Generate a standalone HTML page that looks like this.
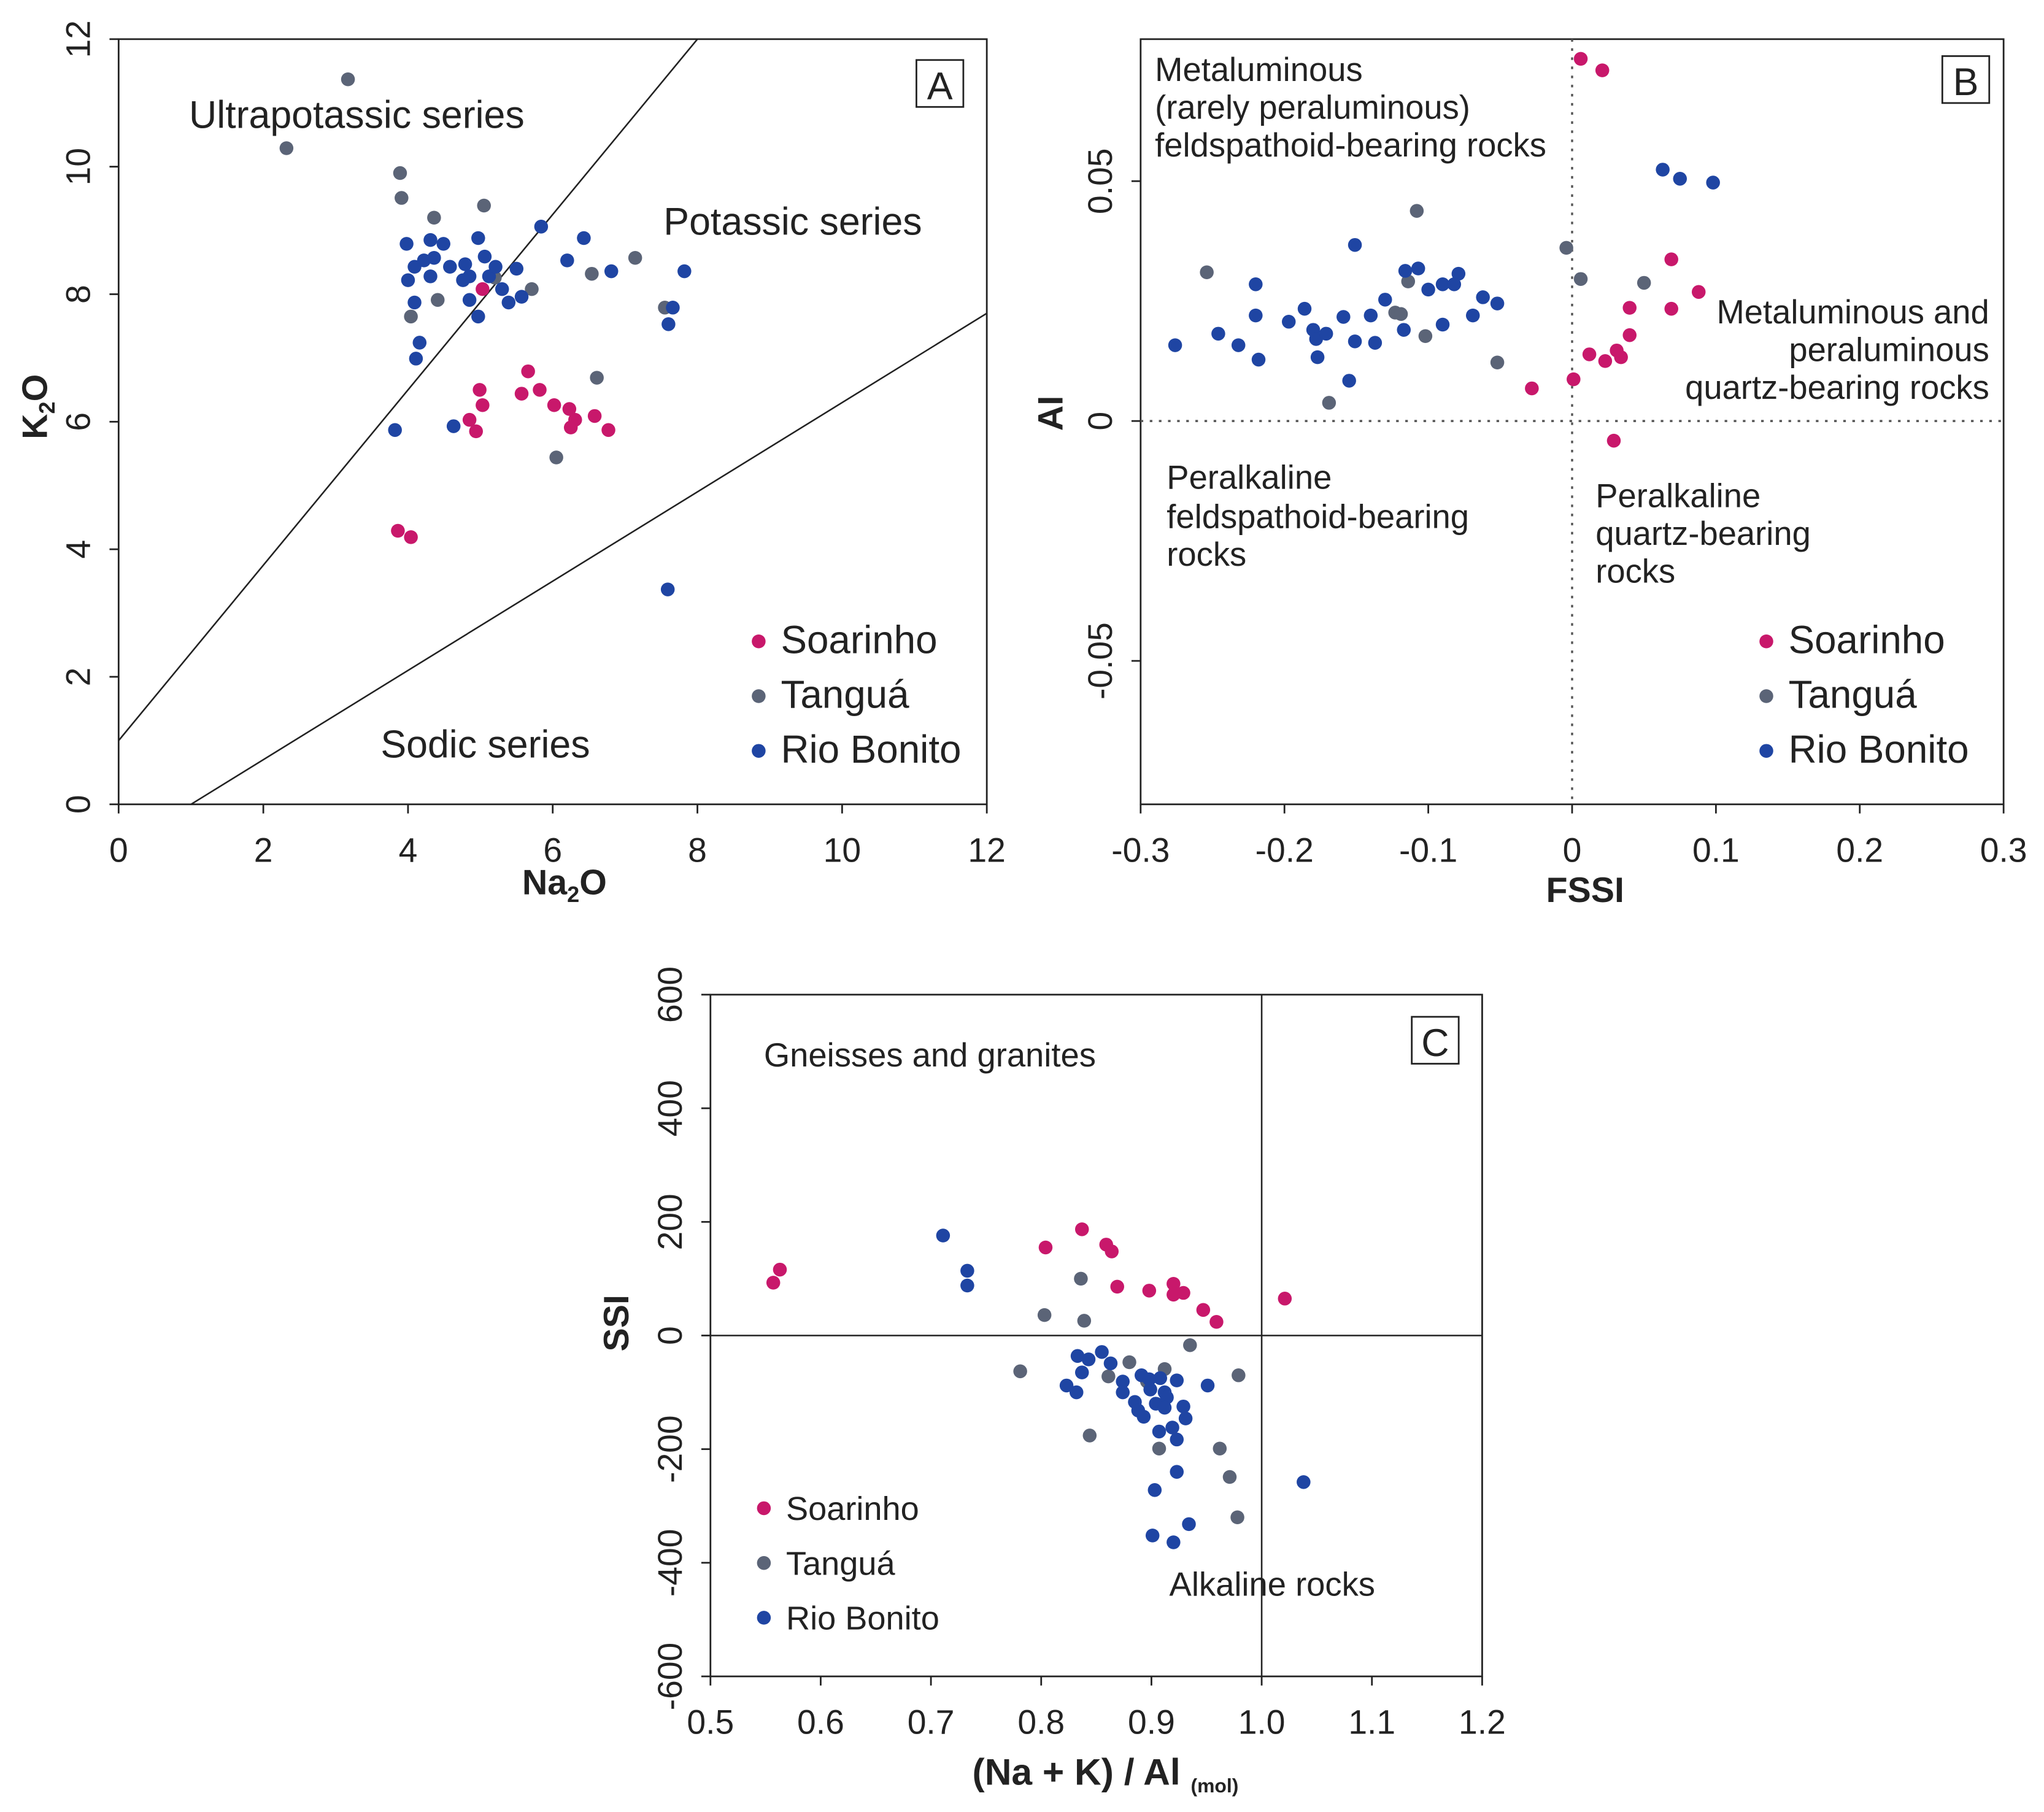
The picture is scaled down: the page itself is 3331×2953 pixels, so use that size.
<!DOCTYPE html>
<html><head><meta charset="utf-8"><style>
html,body{margin:0;padding:0;background:#fff}
svg{display:block}
text{font-family:"Liberation Sans",Arial,sans-serif;fill:#222}
.t{font-size:26px}
.ann{font-size:25.6px}
.ax{font-size:27px;font-weight:bold}
.lg{font-size:29.5px}
</style></head><body>
<svg id="chart" width="3331" height="2953" viewBox="0 0 1568 1390" xmlns="http://www.w3.org/2000/svg">
<g id="root"></g>
</svg>
<script>
// ---- Panel A data (Na2O, K2O) ----
const aSoarNa=[3.86,4.04,4.85,4.94,4.99,5.03,5.03,5.66,5.57,5.82,6.02,6.23,6.31,6.25,6.58,6.77];
const aSoarK=[4.29,4.19,6.03,5.85,6.50,6.26,8.08,6.79,6.44,6.50,6.26,6.20,6.03,5.91,6.09,5.87];
const aTangNa=[3.17,2.32,3.89,3.91,4.36,5.05,4.04,4.41,5.71,6.54,7.14,7.55,6.61,6.05,5.2];
const aTangK=[11.37,10.29,9.90,9.51,9.20,9.39,7.65,7.91,8.08,8.32,8.57,7.79,6.69,5.44,8.26];
const aRioNa=[3.98,4.31,4.49,4.00,4.09,4.22,4.36,4.58,4.31,4.09,4.16,4.11,3.82,4.63,4.79,4.85,4.85,4.97,5.06,4.97,5.12,5.30,5.39,5.50,5.57,5.84,6.20,6.43,6.81,7.66,7.60,7.82,7.59,5.21,4.76];
const aRioK=[8.79,8.85,8.79,8.22,8.43,8.53,8.57,8.43,8.28,7.87,7.24,6.99,5.87,5.93,8.47,8.28,7.91,8.88,8.59,7.65,8.28,8.08,7.87,8.40,7.96,9.06,8.53,8.88,8.36,7.79,7.53,8.36,3.37,8.43,8.22];
const aTicks=[0,2,4,6,8,10,12];
// ---- Panel B data (FSSI, AI) ----
const bSoarX=[0.006,0.021,0.069,0.040,0.069,0.088,0.040,0.012,0.023,0.031,0.034,0.001,-0.028,0.029];
const bSoarY=[0.0755,0.0731,0.0337,0.0236,0.0234,0.0269,0.0179,0.0139,0.0125,0.0147,0.0133,0.0087,0.0068,-0.0041];
const bTangX=[-0.254,-0.108,-0.004,0.006,0.050,-0.114,-0.123,-0.119,-0.102,-0.052,-0.169];
const bTangY=[0.031,0.0438,0.0361,0.0296,0.0288,0.0291,0.0226,0.0223,0.0177,0.0122,0.0038];
const bRioX=[-0.276,-0.246,-0.232,-0.220,-0.220,-0.218,-0.197,-0.186,-0.180,-0.178,-0.171,-0.177,-0.159,-0.155,-0.151,-0.151,-0.140,-0.137,-0.130,-0.117,-0.116,-0.107,-0.100,-0.090,-0.090,-0.079,-0.069,-0.062,-0.052,0.063,0.075,0.098,-0.082];
const bRioY=[0.0158,0.0182,0.0158,0.0285,0.0220,0.0128,0.0207,0.0234,0.0190,0.0171,0.0182,0.0133,0.0217,0.0084,0.0367,0.0166,0.0220,0.0163,0.0253,0.0190,0.0313,0.0318,0.0274,0.0285,0.0201,0.0307,0.0220,0.0258,0.0245,0.0524,0.0505,0.0497,0.0285];
const bXTicks=[-0.3,-0.2,-0.1,0,0.1,0.2,0.3];
const bXLabels=["-0.3","-0.2","-0.1","0","0.1","0.2","0.3"];
const bYTicks=[-0.05,0,0.05];
const bYLabels=["-0.05","0","0.05"];
// ---- Panel C data ((Na+K)/Al, SSI) ----
const cSoarX=[0.557,0.563,0.804,0.837,0.859,0.864,0.869,0.898,0.920,0.920,0.929,0.947,0.959,1.021];
const cSoarY=[93,116,155,187,160,148,86,79,91,72,75,45,24,65];
const cTangX=[0.836,0.803,0.839,0.781,0.844,0.935,0.979,0.962,0.971,0.978,0.907,0.861,0.880,0.896,0.912];
const cTangY=[100,36,26,-63,-176,-17,-70,-199,-249,-320,-199,-72,-47,-81,-59];
const cRioX=[0.711,0.733,0.733,0.833,0.843,0.837,0.823,0.832,0.855,0.863,0.874,0.874,0.885,0.891,0.899,0.904,0.888,0.893,0.908,0.912,0.914,0.923,0.907,0.919,0.923,0.929,0.931,0.951,0.923,0.903,0.901,0.934,0.920,1.038,0.898,0.912];
const cRioY=[176,114,88,-36,-42,-65,-88,-100,-29,-49,-81,-100,-117,-70,-95,-120,-132,-143,-75,-100,-109,-79,-169,-162,-183,-125,-146,-88,-240,-272,-352,-332,-364,-258,-77,-127];
const cXTicks=[0.5,0.6,0.7,0.8,0.9,1.0,1.1,1.2];
const cXLabels=["0.5","0.6","0.7","0.8","0.9","1.0","1.1","1.2"];
const cYTicks=[-600,-400,-200,0,200,400,600];

const NS="http://www.w3.org/2000/svg";
const root=document.getElementById('root');
const PINK="#c8186b",GRAY="#5b6477",BLUE="#1f45a3";
function mk(tag,attrs,parent,txt){const e=document.createElementNS(NS,tag);for(const k in attrs)e.setAttribute(k,attrs[k]);if(txt!==undefined)e.textContent=txt;(parent||root).appendChild(e);return e;}
function lin(d0,d1,p0,p1){return v=>p0+(v-d0)/(d1-d0)*(p1-p0);}

function panel(cfg){
  const g=mk('g',{});
  
  
  const sx=lin(cfg.xd[0],cfg.xd[1],cfg.box[0],cfg.box[2]);
  const sy=lin(cfg.yd[0],cfg.yd[1],cfg.box[3],cfg.box[1]);
  const fr=mk('rect',{x:cfg.box[0],y:cfg.box[1],width:cfg.box[2]-cfg.box[0],height:cfg.box[3]-cfg.box[1],fill:'none',stroke:'#222','stroke-width':1.3},g);
  
  
  cfg.xt.forEach((v,i)=>{const x=sx(v);
    mk('line',{x1:x,x2:x,y1:cfg.box[3],y2:cfg.box[3]+7,stroke:'#222','stroke-width':1.3},g);
    const t=mk('text',{x:x,y:cfg.box[3]+44,'text-anchor':'middle',class:'t'},g,cfg.xl[i]);
    
    
  });
  cfg.yt.forEach((v,i)=>{const y=sy(v);
    mk('line',{x1:cfg.box[0]-7,x2:cfg.box[0],y1:y,y2:y,stroke:'#222','stroke-width':1.3},g);
    const tx=cfg.box[0]-22;
    const t=mk('text',{x:tx,y:y,'text-anchor':'middle',class:'t',transform:`rotate(-90 ${tx} ${y})`},g,cfg.yl[i]);
    
    
  });
  return {g,sx,sy};
}
function dots(p,xs,ys,col,name){
  xs.forEach((v,i)=>{const c=mk('circle',{cx:p.sx(v),cy:p.sy(ys[i]),r:5.3,fill:col},p.g);
    
    });
}
function label(g,x,y,txt,cls,anchor,name){const t=mk('text',{x:x,y:y,class:cls,'text-anchor':anchor||'start'},g,txt);
  
  return t;}
function letter(g,x,y,L){const r=mk('rect',{x:x,y:y,width:36,height:36,fill:'#fff',stroke:'#222','stroke-width':1.3},g);
  
  
  label(g,x+18,y+30,L,'lg','middle','panel-letter');}
function legend(g,x,y,gap,fs){
  [["Soarinho",PINK],["Tanguá",GRAY],["Rio Bonito",BLUE]].forEach((d,i)=>{
    const c=mk('circle',{cx:x,cy:y+i*gap,r:5.3,fill:d[1]},g);
    
    
    const t=mk('text',{x:x+17,y:y+i*gap+9,style:`font-size:${fs}px`},g,d[0]);
    
    
  });
}

// Panel A
const A=panel({name:'panel-a',box:[91,30,757,617],xd:[0,12],yd:[0,12],xt:aTicks,xl:aTicks.map(String),yt:aTicks,yl:aTicks.map(String)});
const clip=mk('clipPath',{id:'clipA'},A.g);mk('rect',{x:91,y:30,width:666,height:587},clip);
let l1=mk('line',{x1:A.sx(0),y1:A.sy(1),x2:A.sx(8),y2:A.sy(12),stroke:'#222','stroke-width':1.2,'clip-path':'url(#clipA)'},A.g);


let l2=mk('line',{x1:A.sx(1),y1:A.sy(0),x2:A.sx(12),y2:A.sy(7.7),stroke:'#222','stroke-width':1.2,'clip-path':'url(#clipA)'},A.g);


dots(A,aTangNa,aTangK,GRAY,'tangua-point');
dots(A,aRioNa,aRioK,BLUE,'rio-bonito-point');
dots(A,aSoarNa,aSoarK,PINK,'soarinho-point');
label(A.g,145,98,'Ultrapotassic series','lg','start','ultrapotassic-label');
label(A.g,509,180,'Potassic series','lg','start','potassic-label');
label(A.g,292,581,'Sodic series','lg','start','sodic-label');
letter(A.g,703,46,'A');
legend(A.g,582,492,42,30);
let ax=mk('text',{x:433,y:686,class:'ax','text-anchor':'middle'},A.g);

ax.innerHTML='Na<tspan font-size="17" dy="6">2</tspan><tspan dy="-6">O</tspan>';
let ay=mk('text',{x:0,y:0,class:'ax','text-anchor':'middle',transform:'translate(36 312) rotate(-90)'},A.g);

ay.innerHTML='K<tspan font-size="17" dy="6">2</tspan><tspan dy="-6">O</tspan>';

// Panel B
const B=panel({name:'panel-b',box:[875,30,1537,617],xd:[-0.3,0.3],yd:[-0.0799,0.0796],xt:bXTicks,xl:bXLabels,yt:bYTicks,yl:bYLabels});
let d1=mk('line',{x1:B.sx(0),x2:B.sx(0),y1:30,y2:617,stroke:'#555','stroke-width':1.6,'stroke-dasharray':'2 5'},B.g);

let d2=mk('line',{x1:875,x2:1537,y1:B.sy(0),y2:B.sy(0),stroke:'#555','stroke-width':1.6,'stroke-dasharray':'2 5'},B.g);

dots(B,bTangX,bTangY,GRAY,'tangua-point');
dots(B,bRioX,bRioY,BLUE,'rio-bonito-point');
dots(B,bSoarX,bSoarY,PINK,'soarinho-point');
label(B.g,886,62,'Metaluminous','ann','start','region-label');
label(B.g,886,91,'(rarely peraluminous)','ann','start','region-label');
label(B.g,886,120,'feldspathoid-bearing rocks','ann','start','region-label');
label(B.g,1526,248,'Metaluminous and','ann','end','region-label');
label(B.g,1526,277,'peraluminous','ann','end','region-label');
label(B.g,1526,306,'quartz-bearing rocks','ann','end','region-label');
label(B.g,895,375,'Peralkaline','ann','start','region-label');
label(B.g,895,405,'feldspathoid-bearing','ann','start','region-label');
label(B.g,895,434,'rocks','ann','start','region-label');
label(B.g,1224,389,'Peralkaline','ann','start','region-label');
label(B.g,1224,418,'quartz-bearing','ann','start','region-label');
label(B.g,1224,447,'rocks','ann','start','region-label');
letter(B.g,1490,43,'B');
legend(B.g,1355,492,42,30);
label(B.g,1216,692,'FSSI','ax','middle','x-axis-title');
let by=mk('text',{x:0,y:0,class:'ax','text-anchor':'middle',transform:'translate(815 317) rotate(-90)'},B.g,'AI');


// Panel C
const C=panel({name:'panel-c',box:[545,763,1137,1286],xd:[0.5,1.2],yd:[-600,600],xt:cXTicks,xl:cXLabels,yt:cYTicks,yl:cYTicks.map(String)});
let v1=mk('line',{x1:C.sx(1.0),x2:C.sx(1.0),y1:763,y2:1286,stroke:'#222','stroke-width':1.2},C.g);

let h1=mk('line',{x1:545,x2:1137,y1:C.sy(0),y2:C.sy(0),stroke:'#222','stroke-width':1.2},C.g);

dots(C,cTangX,cTangY,GRAY,'tangua-point');
dots(C,cRioX,cRioY,BLUE,'rio-bonito-point');
dots(C,cSoarX,cSoarY,PINK,'soarinho-point');
label(C.g,586,818,'Gneisses and granites','ann','start','region-label');
label(C.g,897,1224,'Alkaline rocks','ann','start','region-label');
letter(C.g,1083,780,'C');
legend(C.g,586,1157,42,25.5);
let cx=mk('text',{x:848,y:1369,class:'ax','text-anchor':'middle',style:'font-size:28.5px'},C.g);

cx.innerHTML='(Na + K) / Al <tspan font-size="15" dy="6">(mol)</tspan>';
let cy=mk('text',{x:0,y:0,class:'ax','text-anchor':'middle',transform:'translate(482 1015) rotate(-90)'},C.g,'SSI');

</script>
</body></html>
